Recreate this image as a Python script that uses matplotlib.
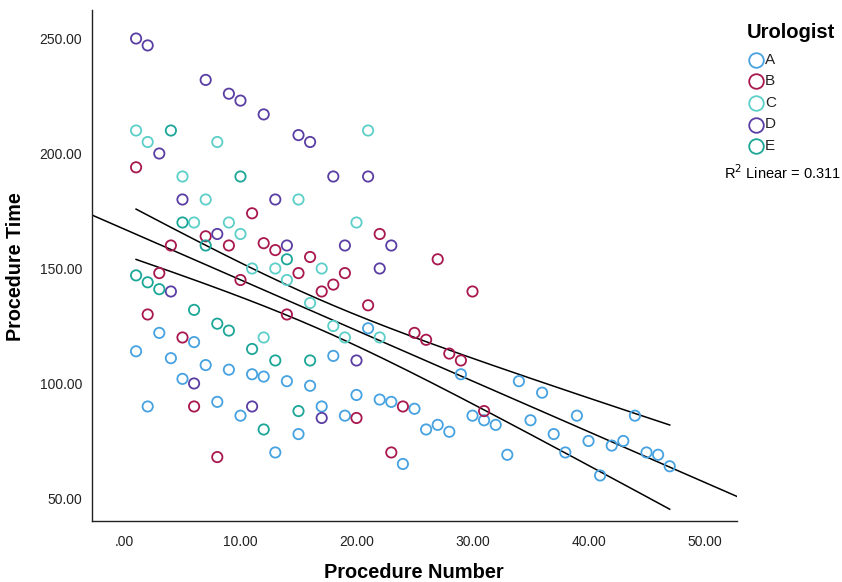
import numpy as np
import matplotlib
matplotlib.use("Agg")
import matplotlib.pyplot as plt
from matplotlib.lines import Line2D

plt.rcParams['font.family'] = ['Liberation Sans', 'DejaVu Sans']

# ---- data (procedure number, procedure time) per urologist ----
urologists = ["A", "B", "C", "D", "E"]

a_x = [1, 2, 3, 4, 5, 6, 7, 8, 9, 10, 11, 12, 13, 14, 15, 16, 17, 18, 19, 20, 21, 22, 23, 24,
       25, 26, 27, 28, 29, 30, 31, 32, 33, 34, 35, 36, 37, 38, 39, 40, 41, 42, 43, 44, 45, 46, 47]
a_y = [114, 90, 122, 111, 102, 118, 108, 92, 106, 86, 104, 103, 70, 101, 78, 99, 90, 112, 86, 95,
       124, 93, 92, 65, 89, 80, 82, 79, 104, 86, 84, 82, 69, 101, 84, 96, 78, 70, 86, 75, 60,
       73, 75, 86, 70, 69, 64]

b_x = [1, 2, 3, 4, 5, 6, 7, 8, 9, 10, 11, 12, 13, 14, 15, 16, 17, 18, 19, 20, 21, 22, 23, 24,
       25, 26, 27, 28, 29, 30, 31]
b_y = [194, 130, 148, 160, 120, 90, 164, 68, 160, 145, 174, 161, 158, 130, 148, 155, 140, 143,
       148, 85, 134, 165, 70, 90, 122, 119, 154, 113, 110, 140, 88]

c_x = [1, 2, 5, 6, 7, 8, 9, 10, 11, 12, 13, 14, 15, 16, 17, 18, 19, 20, 21, 22]
c_y = [210, 205, 190, 170, 180, 205, 170, 165, 150, 120, 150, 145, 180, 135, 150, 125, 120, 170,
       210, 120]

d_x = [1, 2, 3, 4, 5, 6, 7, 8, 9, 10, 11, 12, 13, 14, 15, 16, 17, 18, 19, 20, 21, 22, 23]
d_y = [250, 247, 200, 140, 180, 100, 232, 165, 226, 223, 90, 217, 180, 160, 208, 205, 85, 190,
       160, 110, 190, 150, 160]

e_x = [1, 2, 3, 4, 5, 6, 7, 8, 9, 10, 11, 12, 13, 14, 15, 16]
e_y = [147, 144, 141, 210, 170, 132, 160, 126, 123, 190, 115, 80, 110, 154, 88, 110]

colors = ["#46A2E0", "#A8184F", "#5CCFC8", "#5A3EA3", "#1CA698"]

x_ticks = [0, 10, 20, 30, 40, 50]
x_tick_labels = [".00", "10.00", "20.00", "30.00", "40.00", "50.00"]
y_ticks = [50, 100, 150, 200, 250]
y_tick_labels = ["50.00", "100.00", "150.00", "200.00", "250.00"]
r2_label = 0.311

series_x = [a_x, b_x, c_x, d_x, e_x]
series_y = [a_y, b_y, c_y, d_y, e_y]

# ---- figure ----
fig = plt.figure(figsize=(8.42, 5.82), dpi=100)
ax = fig.add_axes([92 / 842, 1 - 521 / 582, (737 - 92) / 842, (521 - 10) / 582])

for xs, ys, col in zip(series_x, series_y, colors):
    ax.scatter(xs, ys, s=55, facecolors="none", edgecolors=col, linewidths=1.3, zorder=3)

# linear fit with 95% CI for the mean
all_x = np.concatenate([np.asarray(v, float) for v in series_x])
all_y = np.concatenate([np.asarray(v, float) for v in series_y])
n = len(all_x)
slope, intercept = np.polyfit(all_x, all_y, 1)
pred = slope * all_x + intercept
resid = all_y - pred
s = np.sqrt(np.sum(resid ** 2) / (n - 2))
xm = all_x.mean()
sxx = np.sum((all_x - xm) ** 2)

xlim = (-2.8, 52.8)
ylim = (40.2, 262.4)
xl = np.linspace(xlim[0], xlim[1], 200)
ax.plot(xl, slope * xl + intercept, color="black", lw=1.1, zorder=2)
xb = np.linspace(all_x.min(), all_x.max(), 200)
half = 1.978 * s * np.sqrt(1.0 / n + (xb - xm) ** 2 / sxx)
ax.plot(xb, slope * xb + intercept + half, color="black", lw=1.1, zorder=2)
ax.plot(xb, slope * xb + intercept - half, color="black", lw=1.1, zorder=2)

ax.set_xlim(*xlim)
ax.set_ylim(*ylim)
ax.set_xticks(x_ticks)
ax.set_xticklabels(x_tick_labels)
ax.set_yticks(y_ticks)
ax.set_yticklabels(y_tick_labels)
ax.tick_params(length=0, labelsize=10, labelcolor="#222222")
ax.tick_params(axis="x", pad=10)
ax.tick_params(axis="y", pad=7)
for side in ["top", "right"]:
    ax.spines[side].set_visible(False)
for side in ["left", "bottom"]:
    ax.spines[side].set_color("#222222")
    ax.spines[side].set_linewidth(1.0)

fig.text(414 / 842, 1 - 573 / 582, "Procedure Number", ha="center", va="center",
         fontsize=14.4, fontweight="bold")
fig.text(16 / 842, 1 - 267 / 582, "Procedure Time", ha="center", va="center",
         rotation=90, fontsize=14.2, fontweight="bold")

# legend
fig.text(747 / 842, 1 - 32 / 582, "Urologist", ha="left", va="center",
         fontsize=14.5, fontweight="bold")
for i, (lab, col) in enumerate(zip(urologists, colors)):
    yy = 1 - (60 + 21.5 * i) / 582
    fig.add_artist(Line2D([756 / 842], [yy], marker="o", ls="", mfc="none", mec=col,
                          ms=10.5, mew=1.3, transform=fig.transFigure))
    fig.text(765 / 842, yy, lab, ha="left", va="center", fontsize=11, color="#222222")

fig.text(724 / 842, 1 - 173 / 582, "R$^2$ Linear = %.3f" % r2_label, ha="left", va="center",
         fontsize=10.5)

fig.savefig("out.png", dpi=100)
